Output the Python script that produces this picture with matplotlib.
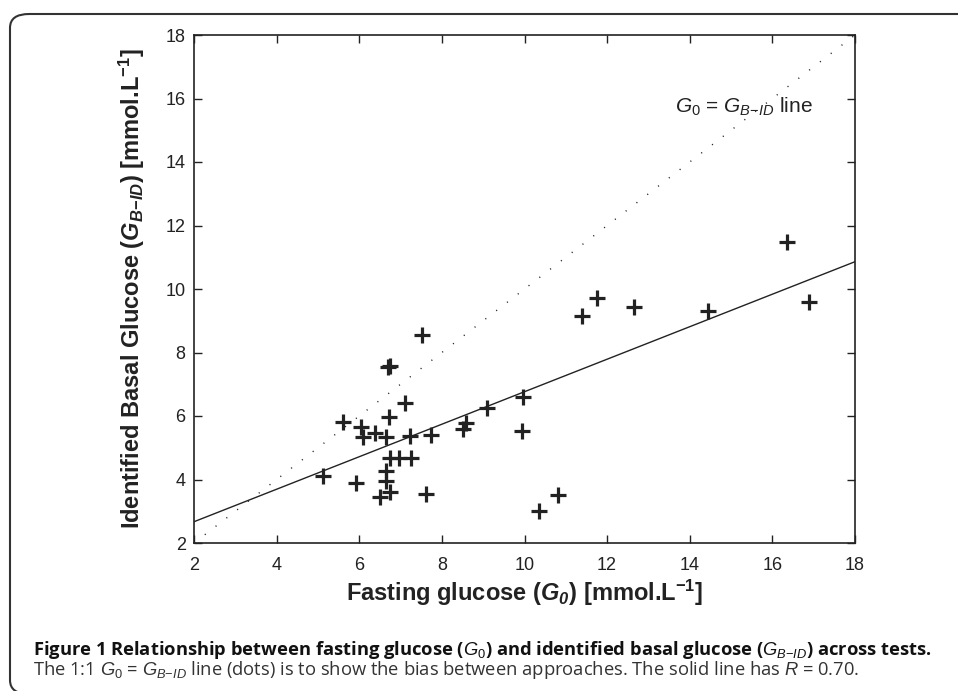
import numpy as np
import matplotlib
matplotlib.use("Agg")
import matplotlib.pyplot as plt
from matplotlib.patches import FancyBboxPatch

plt.rcParams['font.family'] = ['Liberation Sans', 'DejaVu Sans']
plt.rcParams['mathtext.fontset'] = 'custom'
plt.rcParams['mathtext.rm'] = 'Liberation Sans'
plt.rcParams['mathtext.it'] = 'Liberation Sans:italic'
plt.rcParams['mathtext.bf'] = 'Liberation Sans:bold'
plt.rcParams['mathtext.bfit'] = 'Liberation Sans:italic:bold'

# fasting glucose G0 vs identified basal glucose GB-ID
g0 = [7.51, 6.69, 6.75, 7.11, 9.09, 6.71, 5.60, 6.04, 6.08, 6.38,
      6.65, 7.23, 7.73, 8.51, 8.59, 6.75, 6.96, 7.25, 5.13, 6.64,
      6.65, 5.92, 6.50, 6.75, 7.62, 16.35, 16.89, 11.39, 11.75, 12.64,
      14.45, 9.97, 9.93, 10.82, 10.35]
gbid = [8.55, 7.53, 7.57, 6.40, 6.24, 5.96, 5.80, 5.64, 5.33, 5.45,
        5.33, 5.38, 5.40, 5.58, 5.77, 4.67, 4.67, 4.69, 4.12, 4.28,
        3.96, 3.88, 3.44, 3.60, 3.53, 11.49, 9.60, 9.16, 9.71, 9.42,
        9.31, 6.61, 5.54, 3.51, 3.01]

# regression line ends and 1:1 line
fit_x = [2, 18]
fit_y = [2.67, 10.86]
unity = [2, 18]

ticks = [2, 4, 6, 8, 10, 12, 14, 16, 18]

fig = plt.figure(figsize=(9.58, 6.91), dpi=100)
ax = fig.add_axes([194/958, 1-543/691, (855-194)/958, (543-35)/691])

ax.plot(unity, unity, color='#222222', lw=1.0, linestyle=(0, (0.8, 9)))
ax.plot(fit_x, fit_y, color='#222222', lw=1.0)
ax.plot(g0, gbid, '+', color='#222222', ms=12, mew=2.3)

ax.set_xlim(2, 18)
ax.set_ylim(2, 18)
ax.set_xticks(ticks)
ax.set_yticks(ticks)
ax.tick_params(direction='in', length=6, width=1, colors='#222222',
               labelsize=13, top=True, right=True)
ax.tick_params(axis='x', pad=10)
ax.tick_params(axis='y', pad=6)
for s in ax.spines.values():
    s.set_color('#222222')
    s.set_linewidth(1.2)

ax.text(13.65, 15.73, r'$\mathit{G}_{\mathit{0}}$ = $\mathit{G}_{\mathit{B}{-}\mathit{ID}}$ line',
        fontsize=15, color='#222222', va='center')

ax.set_xlabel(r'Fasting glucose ($\mathbfit{G}_{\mathbfit{0}}$) [mmol.L$^{\mathbf{-1}}$]',
              fontsize=17, fontweight='bold', color='#222222', labelpad=3)
ax.set_ylabel(r'Identified Basal Glucose ($\mathbfit{G}_{\mathbfit{B}{\mathbf{-}}\mathbfit{ID}}$) [mmol.L$^{\mathbf{-1}}$]',
              fontsize=17, fontweight='bold', color='#222222', labelpad=13)

# frame around the figure panel
frame = FancyBboxPatch((10/958, -3/691), 990/958, 680/691,
                       boxstyle='round,pad=0,rounding_size=0.02',
                       transform=fig.transFigure, fill=False,
                       edgecolor='#333333', lw=1.5, clip_on=False)
fig.add_artist(frame)

cap_font = ['Open Sans', 'DejaVu Sans']
fig.text(33/958, 1-650/691,
         r'Figure 1 Relationship between fasting glucose ($\mathit{G_0}$) and identified basal glucose ($\mathit{G_{B{-}ID}}$) across tests.',
         fontsize=13.2, fontweight='bold', family=cap_font, color='#111111', va='center')
fig.text(33/958, 1-670/691,
         r'The 1:1 $\mathit{G_0}$ = $\mathit{G_{B{-}ID}}$ line (dots) is to show the bias between approaches. The solid line has $\mathit{R}$ = 0.70.',
         fontsize=13.2, family=cap_font, color='#333333', va='center')

fig.savefig('out.png', dpi=100)
